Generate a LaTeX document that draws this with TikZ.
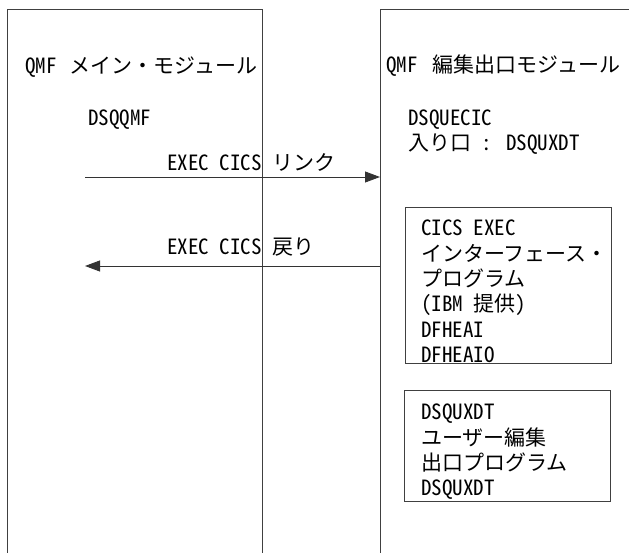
\documentclass[tikz,border=0pt]{standalone}
\usepackage{fontspec}
\setmainfont[RawFeature=+hwid]{Noto Sans CJK JP}
\usetikzlibrary{arrows.meta}

\begin{document}
\begin{tikzpicture}[x=1pt,y=-1pt,every node/.style={font=\fontsize{21}{25.3}\selectfont,inner sep=0pt},
	txt/.style={anchor=west,align=left},
	frame/.style={draw=black!75,line width=0.9pt},
	prog/.style={frame,anchor=north west,minimum width=206pt},
	call/.style={draw=black!80,line width=0.9pt,-{Triangle[length=15pt,width=11pt]}}]
\def\bottom{553}
\def\top{9}
\useasboundingbox (0,0) rectangle (629,553);

%modules
\draw[frame] (7,\bottom) |- (262,\top) -- (262,\bottom);
\draw[frame] (629,\top) -| (380,\bottom);

%left module
\node[txt] (main) at (25,67) {QMF\hspace{13pt}メイン・モジュール};
\node[txt] (dsqqmf) at (88,120) {DSQQMF};
\node[txt] (link) at (167,162) {EXEC CICS リンク};
\node[txt] (ret) at (167,247) {EXEC CICS 戻り};

%right module
\node[txt] (exit) at (386,66) {QMF\hspace{15pt}編集出口モジュール};
\node[txt] (entry) at (408,132) {DSQUECIC\\入り口 : DSQUXDT};

%programs
\node[prog,minimum height=156pt] (cics) at (405,207) {};
\node[txt] (cicstext) at ([xshift=16pt,yshift=-6pt]cics.west) {CICS EXEC\\インターフェース・\\プログラム\\(IBM 提供)\\DFHEAI\\DFHEAIO};
\node[prog,minimum height=111pt] (user) at (404,390) {};
\node[txt] (usertext) at ([xshift=17pt,yshift=-6pt]user.west) {DSQUXDT\\ユーザー編集\\出口プログラム\\DSQUXDT};

%arrows
\coordinate (link a) at (85,177);
\coordinate (link b) at (380,177);
\coordinate (ret a) at (380,266);
\coordinate (ret b) at (85,266);
\draw[call] (link a) -- (link b);
\draw[call] (ret a) -- (ret b);
\end{tikzpicture}
\end{document}
